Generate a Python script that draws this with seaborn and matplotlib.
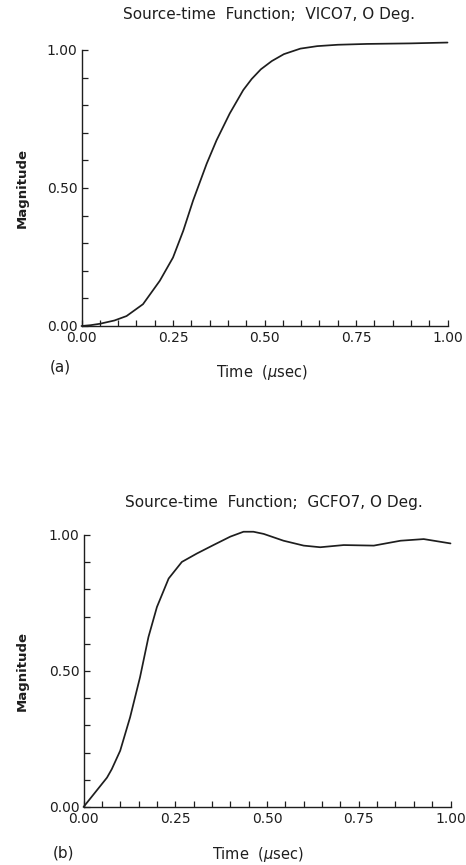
import matplotlib
matplotlib.use("Agg")
import matplotlib.pyplot as plt
from matplotlib.ticker import MultipleLocator, FixedLocator, FixedFormatter
import pandas as pd
import seaborn as sns

# Source-time function, shot VICO7 (0 deg)
time_a = [0.0, 0.025, 0.05, 0.09, 0.123, 0.168, 0.214, 0.25, 0.278, 0.305,
          0.342, 0.369, 0.405, 0.442, 0.465, 0.49, 0.52, 0.553, 0.598,
          0.644, 0.70, 0.78, 0.9, 1.0]
mag_a = [0.0, 0.003, 0.008, 0.02, 0.036, 0.079, 0.164, 0.248, 0.345, 0.455,
         0.588, 0.673, 0.77, 0.855, 0.895, 0.93, 0.96, 0.985, 1.005,
         1.014, 1.019, 1.022, 1.024, 1.027]

# Source-time function, shot GCFO7 (0 deg)
time_b = [0.0, 0.064, 0.077, 0.1, 0.127, 0.154, 0.177, 0.2, 0.232, 0.268,
          0.309, 0.354, 0.4, 0.436, 0.463, 0.491, 0.545, 0.6, 0.645, 0.709,
          0.791, 0.864, 0.927, 1.0]
mag_b = [0.0, 0.108, 0.139, 0.207, 0.33, 0.477, 0.625, 0.735, 0.84, 0.901,
         0.932, 0.963, 0.994, 1.012, 1.012, 1.004, 0.979, 0.961, 0.955, 0.963,
         0.961, 0.979, 0.985, 0.969]

titles = ["Source-time  Function;  VICO7, O Deg.",
          "Source-time  Function;  GCFO7, O Deg."]
panel_tags = ["(a)", "(b)"]
x_ticks = [0.0, 0.25, 0.5, 0.75, 1.0]
x_ticklabels = ["0.00", "0.25", "0.50", "0.75", "1.00"]
y_ticks = [0.0, 0.5, 1.0]
y_ticklabels = ["0.00", "0.50", "1.00"]

sns.set_style("white")
plt.rcParams["font.family"] = ["DejaVu Sans"]
plt.rcParams["mathtext.fontset"] = "dejavusans"

INK = "#1e1e1e"
fig = plt.figure(figsize=(4.66, 8.65), dpi=100)
W, H = 466, 865

# pixel layout of each panel: left spine x, zero-line y, unit width, unit height
panels = [
    dict(x0=81.5, y0=326, w=366, h=276, t=time_a, m=mag_a,
         title_xy=(269, 15), tag_xy=(60, 367), xlab_xy=(262, 372)),
    dict(x0=83.5, y0=807, w=367, h=272, t=time_b, m=mag_b,
         title_xy=(274, 503), tag_xy=(63, 853), xlab_xy=(258, 855)),
]

ytop = 1.035
for i, p in enumerate(panels):
    ax = fig.add_axes([p["x0"] / W, 1 - p["y0"] / H,
                       p["w"] / W, p["h"] * ytop / H])
    df = pd.DataFrame({"Time": p["t"], "Magnitude": p["m"]})
    sns.lineplot(data=df, x="Time", y="Magnitude", ax=ax, color=INK,
                 linewidth=1.25, estimator=None, sort=False, clip_on=False)
    ax.set_xlim(0, 1.0)
    ax.set_ylim(0, ytop)
    for s in ["top", "right"]:
        ax.spines[s].set_visible(False)
    for s in ["left", "bottom"]:
        ax.spines[s].set_color(INK)
        ax.spines[s].set_linewidth(1.0)
    ax.spines["left"].set_bounds(0, 1.0)

    ax.xaxis.set_major_locator(FixedLocator(x_ticks))
    ax.xaxis.set_major_formatter(FixedFormatter(x_ticklabels))
    ax.xaxis.set_minor_locator(MultipleLocator(0.05))
    ax.yaxis.set_major_locator(FixedLocator(y_ticks))
    ax.yaxis.set_major_formatter(FixedFormatter(y_ticklabels))
    ax.yaxis.set_minor_locator(MultipleLocator(0.1))
    ax.tick_params(axis="both", which="both", direction="in", length=4.5,
                   width=0.9, color=INK, labelsize=10, labelcolor=INK)
    ax.tick_params(axis="x", which="both", bottom=True, pad=3.5)
    ax.tick_params(axis="y", which="both", left=True, pad=3)
    ax.set_xlabel("")
    ax.set_ylabel("")

    fig.text(p["title_xy"][0] / W, 1 - p["title_xy"][1] / H, titles[i],
             ha="center", va="center", fontsize=11, color=INK)
    fig.text(p["tag_xy"][0] / W, 1 - p["tag_xy"][1] / H, panel_tags[i],
             ha="center", va="center", fontsize=11, color=INK)
    fig.text(p["xlab_xy"][0] / W, 1 - p["xlab_xy"][1] / H,
             r"Time  ($\mu$sec)", ha="center", va="center", fontsize=10.5,
             color=INK)
    fig.text(22 / W, 1 - (p["y0"] - p["h"] / 2) / H, "Magnitude",
             ha="center", va="center", rotation=90, fontsize=9.5,
             fontweight="bold", color=INK)

fig.savefig("out.png", dpi=100, facecolor="white")
